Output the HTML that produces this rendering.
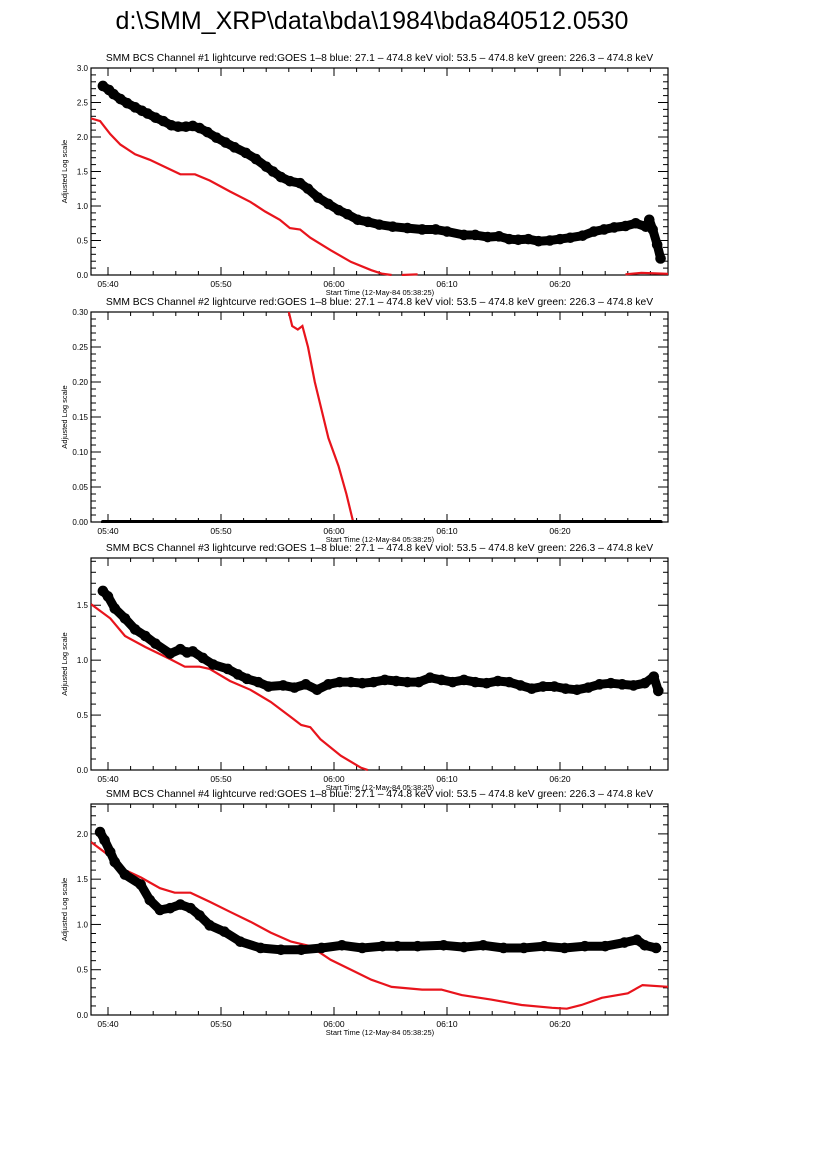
<!DOCTYPE html>
<html><head><meta charset="utf-8"><style>
body{margin:0;background:#fff;width:826px;height:1169px;overflow:hidden}
svg{display:block}
text{font-family:"Liberation Sans",sans-serif;fill:#000}
</style></head><body>
<svg id="c" width="826" height="1169">
<text x="372" y="29" font-size="25" text-anchor="middle">d:\SMM_XRP\data\bda\1984\bda840512.0530</text>
</svg>
<script>
// minutes relative to 05:40
const xTickLabels = ["05:40","05:50","06:00","06:10","06:20"];
const xTickMinutes = [0,10,20,30,40];
const subtitles = [
 "SMM BCS Channel #1 lightcurve  red:GOES 1\u20138  blue: 27.1 \u2013 474.8 keV  viol: 53.5 \u2013 474.8 keV  green: 226.3 \u2013 474.8 keV",
 "SMM BCS Channel #2 lightcurve  red:GOES 1\u20138  blue: 27.1 \u2013 474.8 keV  viol: 53.5 \u2013 474.8 keV  green: 226.3 \u2013 474.8 keV",
 "SMM BCS Channel #3 lightcurve  red:GOES 1\u20138  blue: 27.1 \u2013 474.8 keV  viol: 53.5 \u2013 474.8 keV  green: 226.3 \u2013 474.8 keV",
 "SMM BCS Channel #4 lightcurve  red:GOES 1\u20138  blue: 27.1 \u2013 474.8 keV  viol: 53.5 \u2013 474.8 keV  green: 226.3 \u2013 474.8 keV"];
const yMaxes = [3.0, 0.30, 1.93, 2.33];
const yTickLabels = [["0.0","0.5","1.0","1.5","2.0","2.5","3.0"],["0.00","0.05","0.10","0.15","0.20","0.25","0.30"],["0.0","0.5","1.0","1.5"],["0.0","0.5","1.0","1.5","2.0"]];
const yTickValues = [[0,0.5,1,1.5,2,2.5,3],[0,0.05,0.1,0.15,0.2,0.25,0.3],[0,0.5,1,1.5],[0,0.5,1,1.5,2]];
const yMinorSteps = [0.1,0.01,0.1,0.1];

// Channel 1
const bcs1T = [-0.45,0.1,0.5,1.1,1.7,2.4,3.0,3.5,4.2,4.9,5.6,6.2,6.9,7.5,8.1,8.8,9.6,10.4,11.2,12.2,13.1,14.0,14.6,15.3,16.1,17.0,17.7,18.6,19.5,20.4,21.2,22.1,23.0,24.0,25.2,26.5,27.8,29.0,30.0,31.5,32.5,33.6,34.6,35.5,36.3,37.2,38.1,39.1,40.0,40.9,42.0,43.0,43.9,44.8,45.8,46.7,47.6,47.9,48.2,48.6,48.9];
const bcs1V = [2.74,2.68,2.62,2.55,2.49,2.43,2.38,2.34,2.28,2.23,2.17,2.15,2.15,2.16,2.13,2.07,1.99,1.92,1.85,1.77,1.68,1.57,1.50,1.42,1.36,1.33,1.25,1.12,1.03,0.94,0.88,0.80,0.77,0.73,0.70,0.68,0.66,0.66,0.63,0.58,0.58,0.55,0.56,0.52,0.51,0.52,0.49,0.50,0.52,0.54,0.57,0.63,0.66,0.69,0.71,0.75,0.70,0.80,0.66,0.44,0.24];
const goes1T = [-1.5,-0.7,0.2,1.1,2.4,3.7,5.0,6.4,7.7,9.0,10.8,12.6,13.9,15.2,16.1,17.0,17.9,19.7,21.5,23.3,24.2,25.1,null,26.0,27.4,null,45.8,47.2,49.0,50.8,51.0];
const goes1V = [2.27,2.23,2.04,1.89,1.75,1.67,1.57,1.46,1.46,1.37,1.21,1.06,0.92,0.80,0.68,0.66,0.54,0.36,0.19,0.07,0.02,0.0,null,0.0,0.01,null,0.01,0.03,0.02,0.01,0.01];

// Channel 2
const bcs2T = [-0.45,5,10,15,20,25,30,35,40,45,48.9];
const bcs2V = [0,0,0,0,0,0,0,0,0,0,0];
const goes2T = [16.0,16.3,16.8,17.2,17.7,18.3,18.9,19.5,20.4,21.1,21.7];
const goes2V = [0.30,0.28,0.275,0.28,0.25,0.20,0.16,0.12,0.08,0.04,0.0];

// Channel 3
const bcs3T = [-0.45,0.0,0.6,1.5,2.4,3.3,4.2,5.5,6.4,7.0,7.5,8.4,9.3,10.6,11.5,12.3,13.3,14.2,15.5,16.5,17.5,18.5,19.5,20.5,21.5,22.5,23.5,24.5,25.5,26.5,27.5,28.5,29.5,30.5,31.5,32.5,33.5,34.5,35.5,36.5,37.5,38.5,39.5,40.5,41.5,42.5,43.5,44.5,45.5,46.5,47.5,48.3,48.7];
const bcs3V = [1.63,1.58,1.47,1.38,1.28,1.22,1.15,1.06,1.10,1.07,1.08,1.02,0.96,0.92,0.87,0.83,0.80,0.76,0.77,0.75,0.78,0.73,0.78,0.80,0.80,0.79,0.80,0.82,0.81,0.80,0.80,0.84,0.82,0.80,0.82,0.80,0.79,0.81,0.80,0.77,0.74,0.76,0.76,0.74,0.73,0.75,0.78,0.79,0.78,0.77,0.79,0.85,0.72];
const goes3T = [-1.5,0.2,1.5,3.3,5.5,6.8,8.1,9.0,10.8,12.6,14.4,16.2,17.1,17.9,18.8,20.6,22.4,23.0];
const goes3V = [1.51,1.38,1.22,1.12,1.01,0.94,0.94,0.92,0.81,0.73,0.62,0.48,0.41,0.39,0.28,0.13,0.02,0.0];

// Channel 4
const bcs4T = [-0.7,-0.3,0.2,0.6,1.5,2.9,3.7,4.6,5.5,6.4,7.3,8.1,9.0,10.3,11.7,13.5,15.3,17.1,18.9,20.7,22.5,24.3,25.6,27.4,29.7,31.5,33.2,35.0,36.8,38.6,40.4,42.2,44.0,45.7,46.8,47.5,48.5];
const bcs4V = [2.02,1.93,1.80,1.69,1.55,1.44,1.27,1.16,1.18,1.22,1.18,1.10,0.99,0.92,0.81,0.74,0.72,0.72,0.74,0.77,0.74,0.76,0.76,0.76,0.77,0.75,0.77,0.74,0.74,0.76,0.74,0.76,0.76,0.80,0.83,0.77,0.74];
const goes4T = [-1.5,0.2,1.5,2.9,4.6,5.9,7.3,9.0,10.8,12.6,14.4,16.2,17.9,19.7,21.5,23.3,25.1,27.8,29.5,31.3,33.9,36.6,39.3,40.6,41.9,43.7,46.0,47.3,49.7,51.0];
const goes4V = [1.91,1.75,1.60,1.52,1.40,1.35,1.35,1.25,1.14,1.03,0.91,0.81,0.76,0.61,0.50,0.39,0.31,0.28,0.28,0.22,0.17,0.11,0.08,0.07,0.11,0.19,0.24,0.33,0.31,0.29];

const bcsT=[bcs1T,bcs2T,bcs3T,bcs4T], bcsV=[bcs1V,bcs2V,bcs3V,bcs4V];
const goesT=[goes1T,goes2T,goes3T,goes4T], goesV=[goes1V,goes2V,goes3V,goes4V];

const NS="http://www.w3.org/2000/svg";
const svg=document.getElementById('c');
function mk(tag,attrs,parent){const e=document.createElementNS(NS,tag);for(const k in attrs)e.setAttribute(k,attrs[k]);(parent||svg).appendChild(e);return e;}
const L=91,R=668,X0=108,PXM=11.3;
const tMin=(L-X0)/PXM, tMax=(R-X0)/PXM;
const tops=[68,312,558,804], bots=[275,522,770,1015];
function xs(t){return X0+t*PXM;}

for(let p=0;p<4;p++){
  const T=tops[p],B=bots[p],ym=yMaxes[p];
  const ys=v=>B-(v/ym)*(B-T);
  const g=mk('g',{});
  
  
  const cp=mk('clipPath',{id:'cp'+p},g);
  mk('rect',{x:L,y:T-1,width:R-L,height:B-T+2},cp);
  const st=mk('text',{x:(L+R)/2,y:T-7,'font-size':10.3,'text-anchor':'middle'},g);
  st.textContent=subtitles[p];
  
  
  const yt=mk('text',{x:0,y:0,'font-size':7.5,'text-anchor':'middle',transform:`translate(67,${(T+B)/2}) rotate(-90)`},g);
  yt.textContent='Adjusted Log scale';
  
  
  const xt=mk('text',{x:380,y:B+20,'font-size':7.5,'text-anchor':'middle'},g);
  xt.textContent='Start Time (12-May-84 05:38:25)';
  
  
  for(let m=Math.ceil(tMin/2)*2;m<=tMax;m+=2){
    const x=xs(m),major=(m%10===0),len=major?8:4;
    mk('line',{x1:x,y1:B,x2:x,y2:B-len,stroke:'#000','stroke-width':1},g);
    mk('line',{x1:x,y1:T,x2:x,y2:T+len,stroke:'#000','stroke-width':1},g);
  }
  xTickMinutes.forEach((m,i)=>{
    const t=mk('text',{x:xs(m),y:B+12,'font-size':8.5,'text-anchor':'middle'},g);
    t.textContent=xTickLabels[i];
    
    
  });
  const step=yMinorSteps[p];
  for(let k=0;k*step<=ym+1e-9;k++){
    const v=k*step,y=ys(v),major=(k%5===0),len=major?10:5;
    mk('line',{x1:L,y1:y,x2:L+len,y2:y,stroke:'#000','stroke-width':1},g);
    mk('line',{x1:R,y1:y,x2:R-len,y2:y,stroke:'#000','stroke-width':1},g);
  }
  yTickValues[p].forEach((v,i)=>{
    const t=mk('text',{x:L-3,y:ys(v)+3,'font-size':8,'text-anchor':'end'},g);
    t.textContent=yTickLabels[p][i];
    
    
  });
  mk('rect',{x:L,y:T,width:R-L,height:B-T,fill:'none',stroke:'#000','stroke-width':1.2},g);
  let d='',pen=false;
  goesT[p].forEach((t,i)=>{
    if(t===null){pen=false;return;}
    d+=(pen?'L':'M')+xs(t).toFixed(1)+','+ys(goesV[p][i]).toFixed(1);pen=true;
  });
  const rl=mk('path',{d:d,fill:'none',stroke:'#e8141c','stroke-width':2.2,'clip-path':`url(#cp${p})`},g);
  
  
  const bT=bcsT[p],bV=bcsV[p];
  let bd='';bT.forEach((t,i)=>{bd+=(i?'L':'M')+xs(t).toFixed(1)+','+ys(bV[i]).toFixed(1);});
  const isFlat=(p===1);
  const bl=mk('path',{d:bd,fill:'none',stroke:'#000','stroke-width':isFlat?4:9,'stroke-linejoin':'round','stroke-linecap':'round','clip-path':`url(#cp${p})`},g);
  
  
  if(!isFlat){
    bT.forEach((t,i)=>{
      const c=mk('circle',{cx:xs(t),cy:ys(bV[i]),r:5.3,fill:'#000'},g);
      
      
    });
  }
}
</script>
</body></html>
